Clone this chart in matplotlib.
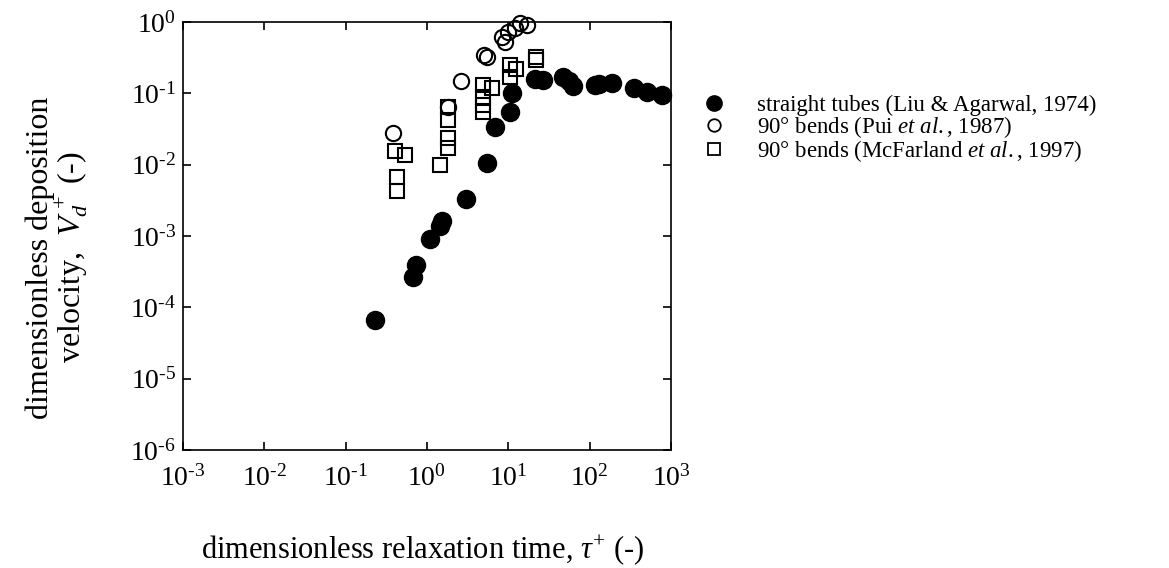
import matplotlib.pyplot as plt

plt.rcParams["font.family"] = ["Liberation Serif", "DejaVu Serif"]
plt.rcParams["mathtext.fontset"] = "custom"
plt.rcParams["mathtext.rm"] = "Liberation Serif"
plt.rcParams["mathtext.it"] = "Liberation Serif:italic"
plt.rcParams["mathtext.sf"] = "Liberation Serif"

# straight tubes (Liu & Agarwal, 1974)
tau_straight = [0.23, 0.68, 0.74, 1.1, 1.45, 1.55, 3.0, 5.4, 6.9, 10.5, 11.2,
                21.4, 27, 47, 55, 63, 117, 130, 190, 350, 510, 780]
vd_straight = [6.6e-5, 2.7e-4, 3.9e-4, 9.0e-4, 1.4e-3, 1.6e-3, 3.3e-3, 0.0105, 0.034,
               0.055, 0.10, 0.16, 0.155, 0.17, 0.15, 0.126, 0.13, 0.135, 0.14, 0.12, 0.105, 0.095]

# 90 deg bends (Pui et al., 1987)
tau_pui = [0.38, 1.8, 2.6, 5.0, 5.5, 8.3, 9.0, 10.0, 12.0, 14.0, 17.0]
vd_pui = [0.028, 0.064, 0.148, 0.35, 0.32, 0.62, 0.52, 0.72, 0.82, 0.97, 0.91]

# 90 deg bends (McFarland et al., 1997)
tau_mcf = [0.41, 0.53, 0.43, 0.43, 1.8, 1.8, 1.8, 1.8, 1.45,
           4.9, 6.3, 4.9, 4.9, 4.9, 10.5, 12.5, 10.5, 22, 22]
vd_mcf = [0.0155, 0.0137, 0.0067, 0.0043, 0.064, 0.042, 0.024, 0.017, 0.010,
          0.13, 0.118, 0.089, 0.069, 0.055, 0.25, 0.22, 0.17, 0.32, 0.29]

labels = ["straight tubes (Liu & Agarwal, 1974)",
          r"90° bends (Pui $\it{et\ al.}$, 1987)",
          r"90° bends (McFarland $\it{et\ al.}$, 1997)"]

decades_x = [-3, -2, -1, 0, 1, 2, 3]
decades_y = [-6, -5, -4, -3, -2, -1, 0]


def power_label(d):
    # short hyphen instead of a long minus, as in the original figure
    exp = str(d).replace("-", "\u2010")
    return r"10$^{\mathregular{%s}}$" % exp


fig = plt.figure(figsize=(11.69, 5.68), dpi=100)
ax = fig.add_axes([0.1565, 0.2077, 0.4175, 0.7536])

ax.plot(tau_straight, vd_straight, "o", ms=13, color="black", mec="black", clip_on=False)
ax.plot(tau_pui, vd_pui, "o", ms=11, mfc="none", mec="black", mew=1.5, clip_on=False)
ax.plot(tau_mcf, vd_mcf, "s", ms=10, mfc="none", mec="black", mew=1.5, clip_on=False)

ax.set_xscale("log")
ax.set_yscale("log")
ax.set_xlim(1e-3, 1e3)
ax.set_ylim(1e-6, 1e0)
ax.minorticks_off()
ax.set_xticks([10.0 ** d for d in decades_x])
ax.set_yticks([10.0 ** d for d in decades_y])
ax.set_xticklabels([power_label(d) for d in decades_x])
ax.set_yticklabels([power_label(d) for d in decades_y])
ax.tick_params(which="major", direction="in", length=6, width=1.2,
               top=True, right=True, labelsize=20)
ax.tick_params(axis="x", pad=11)
ax.tick_params(axis="y", pad=5)
for s in ax.spines.values():
    s.set_linewidth(1.2)

ax.set_xlabel(r"dimensionless relaxation time, $\tau^{+}$ (-)", fontsize=22)
ax.xaxis.set_label_coords(0.49, -0.195)
ax.set_ylabel("dimensionless deposition\n" + r"velocity,  $V_d^{\,+}$ (-)",
              fontsize=23, linespacing=0.95)
ax.yaxis.set_label_coords(-0.19, 0.45)

# legend drawn outside the axes on the right
h1, = ax.plot([], [], "o", ms=11, color="black")
h2, = ax.plot([], [], "o", ms=9, mfc="none", mec="black", mew=1.3)
h3, = ax.plot([], [], "s", ms=8.5, mfc="none", mec="black", mew=1.3)
fig.legend([h1, h2, h3], labels, loc="upper left", bbox_to_anchor=(0.583, 0.87),
           frameon=False, fontsize=16.5, handletextpad=1.4, labelspacing=-0.08,
           handlelength=1.0)

fig.savefig("out.png", dpi=100)
